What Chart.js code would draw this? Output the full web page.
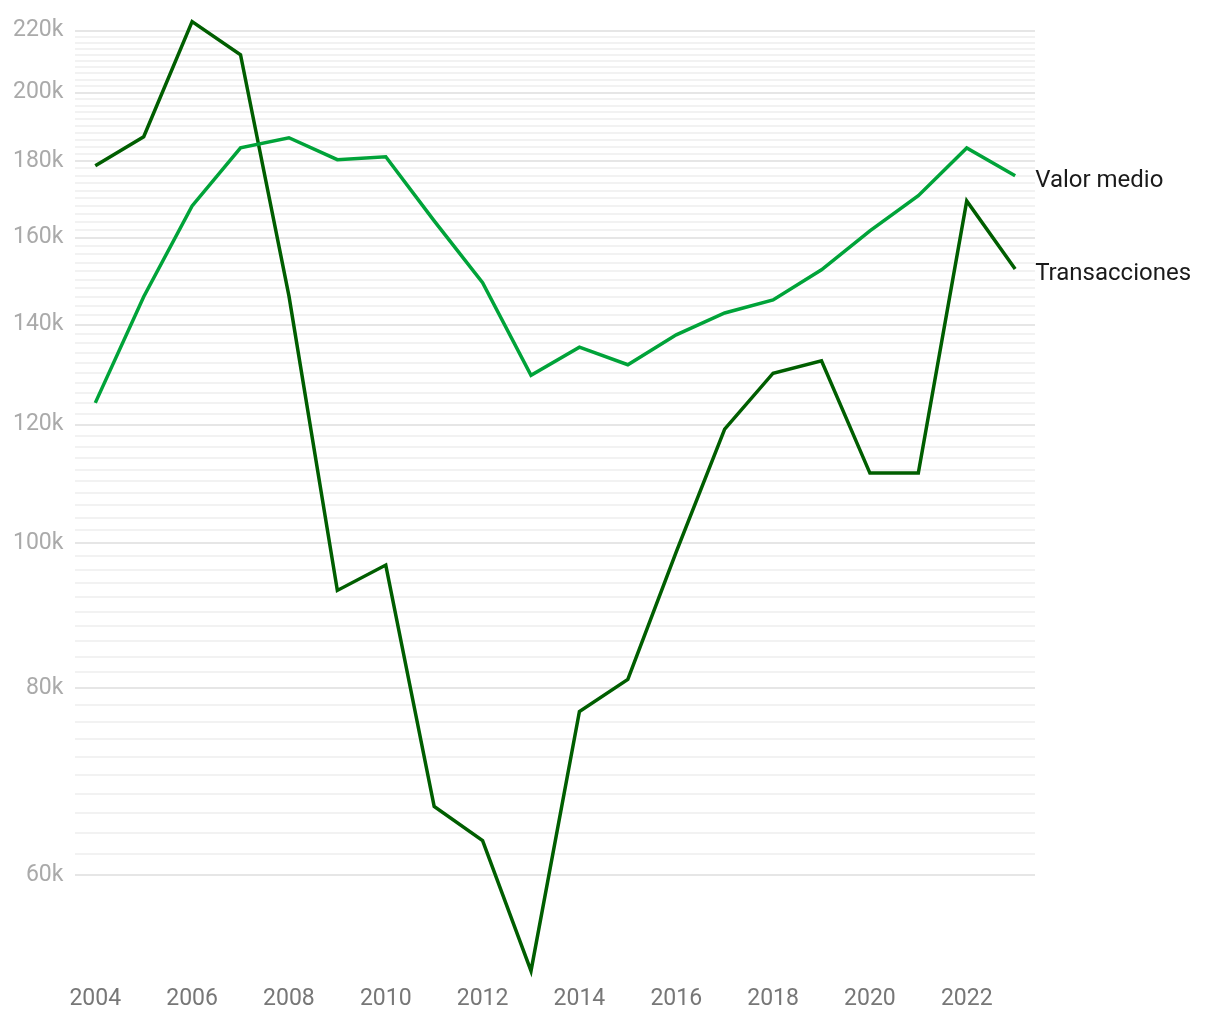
<!DOCTYPE html>
<html>
<head>
<meta charset="utf-8">
<script src="https://cdn.jsdelivr.net/npm/chart.js@4.4.1/dist/chart.umd.min.js"></script>
<style>
  body { margin: 0; background: #fff; }
  canvas { display: block; }
</style>
</head>
<body>
<canvas id="chart" width="1220" height="1020"></canvas>
<script>
const years = [2004, 2005, 2006, 2007, 2008, 2009, 2010, 2011, 2012, 2013,
               2014, 2015, 2016, 2017, 2018, 2019, 2020, 2021, 2022, 2023];
const transacciones = [178700, 186900, 223100, 212000, 146300, 93000, 96700, 66700, 63300, 51800,
                       77200, 81100, 98700, 119200, 129900, 132400, 111400, 111400, 169300, 152500];
const valorMedio = [124100, 146100, 168000, 183700, 186600, 180400, 181200, 164200, 149300, 129500,
                    135200, 131600, 137800, 142500, 145400, 152300, 161700, 170700, 183700, 176000];
const seriesNames = ['Valor medio', 'Transacciones'];
const xTicks = [2004, 2006, 2008, 2010, 2012, 2014, 2016, 2018, 2020, 2022];
// y grid every 2k from 60k to 220k, labels every 20k
const yTicks = [];
for (let v = 60000; v <= 220000; v += 2000) yTicks.push(v);

const colours = { valor: '#00a339', trans: '#005e00' };

// write the series name just right of each line's last point
const endLabels = {
  id: 'endLabels',
  afterDatasetsDraw(chart) {
    const { ctx } = chart;
    ctx.save();
    ctx.font = '24px Roboto';
    ctx.fillStyle = '#1a1a1a';
    ctx.textBaseline = 'middle';
    chart.data.datasets.forEach((ds, i) => {
      const pts = chart.getDatasetMeta(i).data;
      const last = pts[pts.length - 1];
      ctx.fillText(ds.label, last.x + 20, last.y + 5);
    });
    ctx.restore();
  }
};

new Chart(document.getElementById('chart').getContext('2d'), {
  type: 'line',
  plugins: [endLabels],
  data: {
    datasets: [
      { label: seriesNames[0], data: years.map((y, i) => ({ x: y, y: valorMedio[i] })),
        borderColor: colours.valor, borderWidth: 3.5, pointRadius: 0, clip: false, tension: 0 },
      { label: seriesNames[1], data: years.map((y, i) => ({ x: y, y: transacciones[i] })),
        borderColor: colours.trans, borderWidth: 3.5, pointRadius: 0, clip: false, tension: 0 }
    ]
  },
  options: {
    responsive: false,
    animation: false,
    layout: { padding: { left: 1, right: 185, top: 21, bottom: 3 } },
    plugins: { legend: { display: false }, tooltip: { enabled: false } },
    scales: {
      x: {
        type: 'linear',
        min: 2004 - 0.41, max: 2023 + 0.41,
        afterBuildTicks: axis => { axis.ticks = xTicks.map(v => ({ value: v })); },
        grid: { display: false },
        border: { display: false },
        ticks: { color: '#777', font: { family: 'Roboto', size: 23 }, padding: 4,
                 maxRotation: 0, autoSkip: false, callback: v => String(v) }
      },
      y: {
        type: 'logarithmic',
        min: 51600, max: 223300,
        afterBuildTicks: axis => { axis.ticks = yTicks.map(v => ({ value: v })); },
        afterFit: axis => { axis.paddingTop = 0; axis.paddingBottom = 0; },
        border: { display: false },
        grid: {
          drawTicks: false,
          lineWidth: 2,
          color: c => (c.tick && c.tick.value % 20000 === 0) ? '#e6e6e6' : '#f2f2f2'
        },
        ticks: {
          color: '#aaa', font: { family: 'Roboto', size: 23 }, padding: 12, autoSkip: false,
          callback: v => v % 20000 === 0 ? (v / 1000) + 'k' : ''
        }
      }
    }
  }
});
</script>
</body>
</html>
